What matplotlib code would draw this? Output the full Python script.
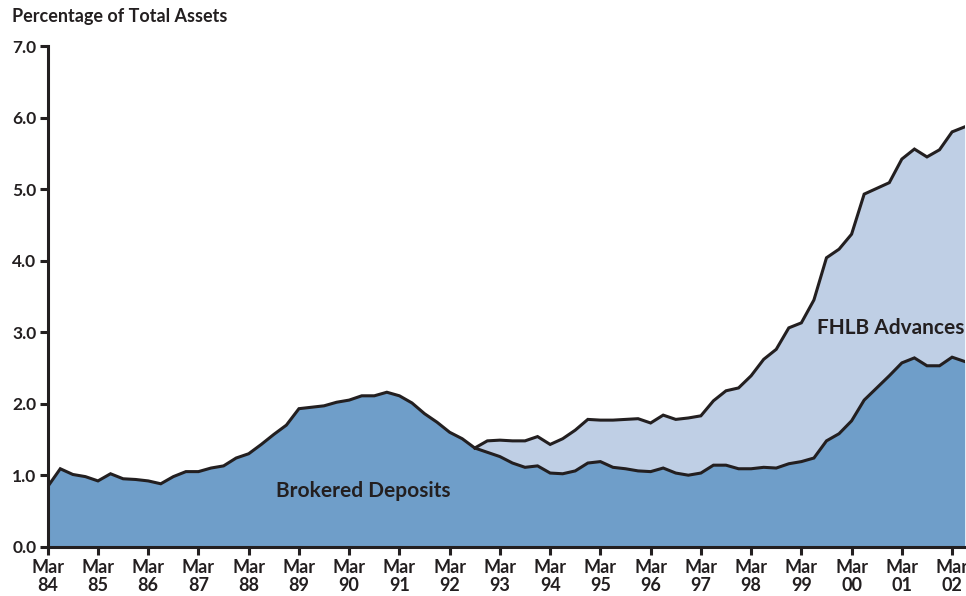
import numpy as np
import matplotlib
matplotlib.use("Agg")
import matplotlib.pyplot as plt

# quarterly, Mar 84 .. Jun 02 (percent of total assets)
brokered = [0.84, 1.09, 1.01, 0.98, 0.92, 1.02, 0.95, 0.94, 0.92, 0.88,
            0.98, 1.05, 1.05, 1.10, 1.13, 1.24, 1.30, 1.43, 1.57, 1.70,
            1.93, 1.95, 1.97, 2.02, 2.05, 2.11, 2.11, 2.16, 2.11, 2.01,
            1.86, 1.74, 1.60, 1.51, 1.38, 1.32, 1.26, 1.17, 1.11, 1.13,
            1.03, 1.02, 1.06, 1.17, 1.19, 1.11, 1.09, 1.06, 1.05, 1.10,
            1.03, 1.00, 1.03, 1.14, 1.14, 1.09, 1.09, 1.11, 1.10, 1.16,
            1.19, 1.24, 1.48, 1.58, 1.76, 2.05, 2.22, 2.39, 2.57, 2.64,
            2.53, 2.53, 2.65, 2.59]
# FHLB advances line, shown from Sep 92 on (hidden behind brokered before)
fhlb_start = 34
fhlb = [1.38, 1.48, 1.49, 1.48, 1.48, 1.54, 1.43, 1.51, 1.63, 1.78,
        1.77, 1.77, 1.78, 1.79, 1.73, 1.84, 1.78, 1.80, 1.83, 2.04,
        2.18, 2.22, 2.39, 2.62, 2.76, 3.06, 3.13, 3.45, 4.04, 4.16,
        4.37, 4.93, 5.01, 5.09, 5.42, 5.56, 5.45, 5.55, 5.80, 5.87]
years = ["84", "85", "86", "87", "88", "89", "90", "91", "92", "93",
         "94", "95", "96", "97", "98", "99", "00", "01", "02"]

dark = "#6f9ec9"
light = "#bfcfe5"
ink = "#231f20"
plt.rcParams["font.family"] = ["Lato", "DejaVu Sans"]
plt.rcParams["font.weight"] = "bold"

fig = plt.figure(figsize=(9.66, 5.96), dpi=100)
ax = fig.add_axes([0.0494, 0.0827, 0.9492, 0.840])

x = np.arange(len(brokered))
xf = np.arange(fhlb_start, fhlb_start + len(fhlb))

ax.fill_between(xf, 0, fhlb, color=light, lw=0)
ax.plot(xf, fhlb, color=ink, lw=2.2, solid_joinstyle="miter")
ax.fill_between(x, 0, brokered, color=dark, lw=0)
ax.plot(x, brokered, color=ink, lw=2.2, solid_joinstyle="miter")

ax.set_xlim(0, len(brokered) - 1)
ax.set_ylim(0, 7)
ax.set_xticks(np.arange(0, len(brokered), 4))
ax.set_xticklabels(["Mar\n" + y for y in years], fontsize=13,
                   fontweight="bold", color=ink, linespacing=1.05)
ax.set_yticks(np.arange(0, 7.5, 1.0))
ax.set_yticklabels([f"{v:.1f}" for v in np.arange(0, 7.5, 1.0)],
                   fontsize=12.5, fontweight="bold", color=ink)

for side in ["top", "right"]:
    ax.spines[side].set_visible(False)
for side in ["left", "bottom"]:
    ax.spines[side].set_linewidth(2.2)
    ax.spines[side].set_color(ink)
ax.tick_params(axis="both", direction="out", length=6, width=2.2, color=ink)
ax.tick_params(axis="x", pad=3)
ax.tick_params(axis="y", pad=2)

ax.text(25.1, 0.78, "Brokered Deposits", fontsize=15, fontweight="bold",
        color=ink, ha="center", va="center")
ax.text(67.1, 3.06, "FHLB Advances", fontsize=15, fontweight="bold",
        color=ink, ha="center", va="center")

fig.text(0.012, 0.972, "Percentage of Total Assets", fontsize=13,
         fontweight="bold", color=ink, ha="left", va="center")

fig.savefig("out.png", dpi=100)
